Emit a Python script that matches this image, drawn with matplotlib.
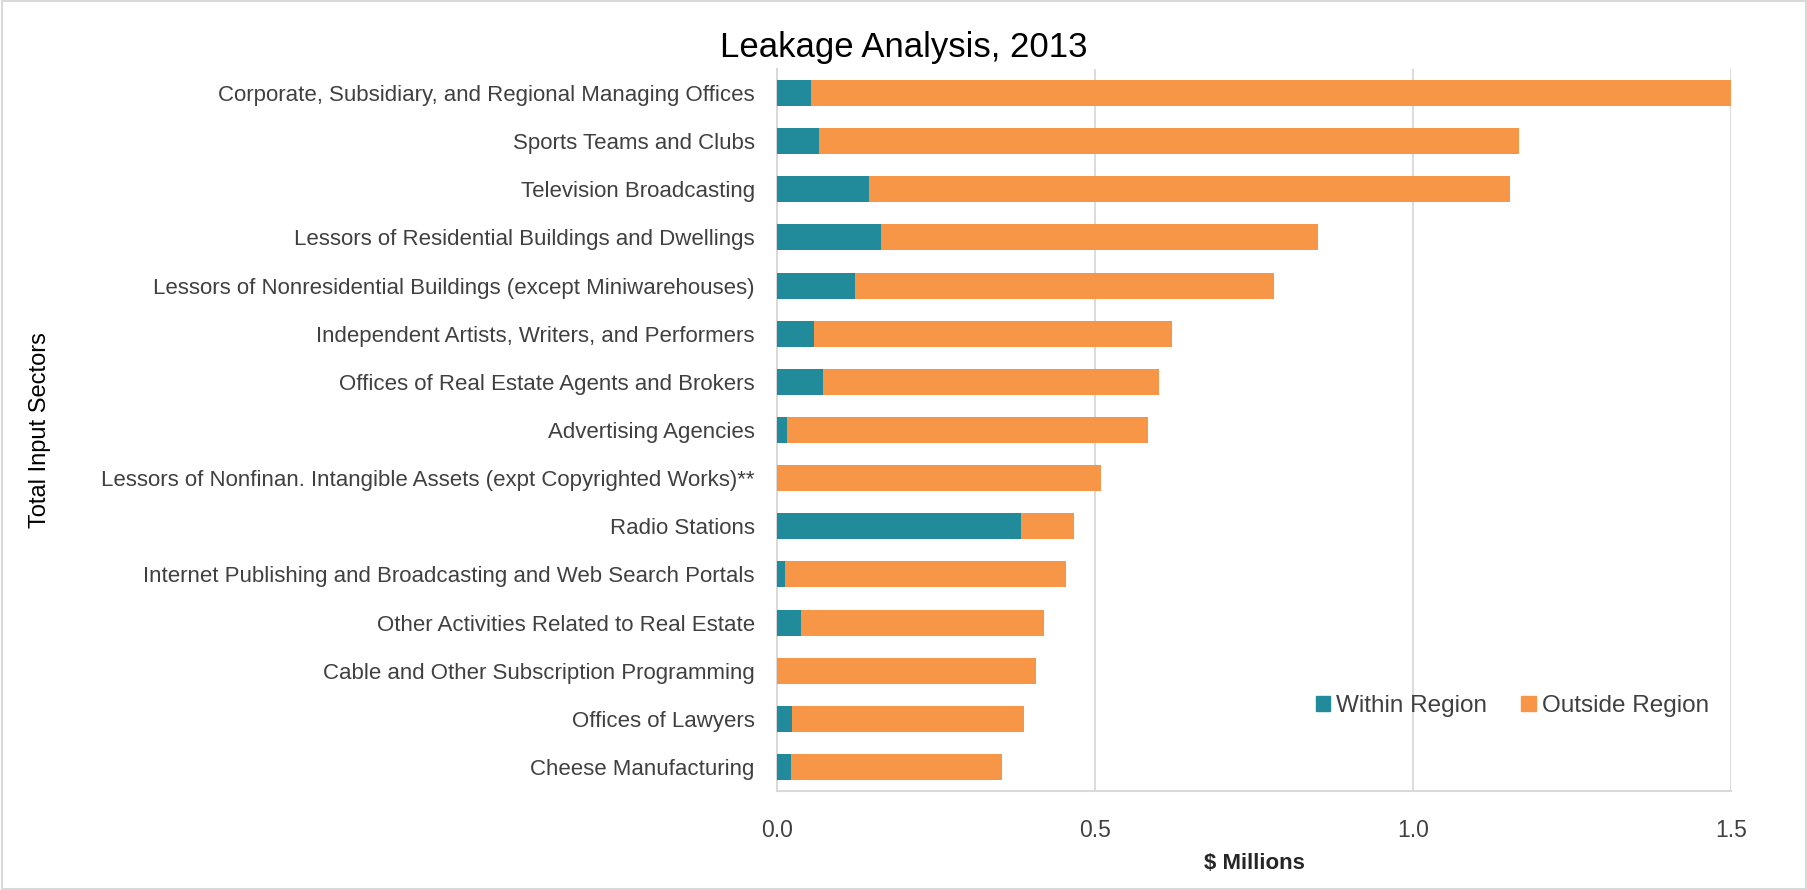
import numpy as np
import matplotlib
matplotlib.use("Agg")
import matplotlib.pyplot as plt
from matplotlib.patches import Rectangle, Patch

plt.rcParams["font.family"] = ["Liberation Sans", "DejaVu Sans"]

sectors = [
    "Corporate, Subsidiary, and Regional Managing Offices",
    "Sports Teams and Clubs",
    "Television Broadcasting",
    "Lessors of Residential Buildings and Dwellings",
    "Lessors of Nonresidential Buildings (except Miniwarehouses)",
    "Independent Artists, Writers, and Performers",
    "Offices of Real Estate Agents and Brokers",
    "Advertising Agencies",
    "Lessors of Nonfinan. Intangible Assets (expt Copyrighted Works)**",
    "Radio Stations",
    "Internet Publishing and Broadcasting and Web Search Portals",
    "Other Activities Related to Real Estate",
    "Cable and Other Subscription Programming",
    "Offices of Lawyers",
    "Cheese Manufacturing",
]
within_region = [0.054, 0.066, 0.145, 0.164, 0.122, 0.058, 0.072, 0.015, 0.0,
                 0.383, 0.012, 0.038, 0.0, 0.024, 0.022]
outside_region = [1.446, 1.101, 1.008, 0.687, 0.659, 0.563, 0.528, 0.568, 0.510,
                  0.084, 0.442, 0.382, 0.407, 0.364, 0.332]
x_ticks = [0.0, 0.5, 1.0, 1.5]

teal = "#218b9b"
orange = "#f79646"
grid_col = "#d9d9d9"
text_col = "#404040"

fig = plt.figure(figsize=(18.08, 8.90), dpi=100)
ax = fig.add_axes([777 / 1808, 1 - 791 / 890, 954 / 1808, 722 / 890])

y = np.arange(len(sectors))
within = np.array(within_region)
outside = np.array(outside_region)
ax.barh(y, within, height=0.54, color=teal, label="Within Region", zorder=3)
ax.barh(y, outside, left=within, height=0.54, color=orange, label="Outside Region", zorder=3)

ax.set_xlim(0, 1.5)
ax.set_ylim(len(sectors) - 0.5, -0.5)
ax.set_yticks(y)
ax.set_yticklabels(sectors, fontsize=16, color=text_col)
ax.set_xticks(x_ticks)
ax.set_xticklabels([f"{v:.1f}" for v in x_ticks], fontsize=16.5, color=text_col)
ax.tick_params(axis="both", length=0)
ax.tick_params(axis="y", pad=16)
ax.tick_params(axis="x", pad=20)

ax.grid(axis="x", color=grid_col, linewidth=1.3, zorder=0)
ax.set_axisbelow(True)
for s in ["top", "right"]:
    ax.spines[s].set_visible(False)
for s in ["left", "bottom"]:
    ax.spines[s].set_color(grid_col)
    ax.spines[s].set_linewidth(1.5)

ax.set_xlabel("$ Millions", fontsize=16, fontweight="bold", color="#262626", labelpad=8)
fig.text(40 / 1808, 1 - 430 / 890, "Total Input Sectors", rotation=90, fontsize=17,
         color="black", ha="center", va="center")
fig.text(0.5, 1 - 47 / 890, "Leakage Analysis, 2013", fontsize=25, color="black",
         ha="center", va="center")

handles = [Patch(color=teal), Patch(color=orange)]
fig.legend(handles, ["Within Region", "Outside Region"], loc="center left",
           bbox_to_anchor=(1306 / 1808, 1 - 706 / 890), frameon=False, ncol=2,
           fontsize=17.5, handlelength=0.6, handleheight=0.6, handletextpad=0.25,
           columnspacing=1.4, labelcolor=text_col, borderaxespad=0)

fig.patches.append(Rectangle((0.001, 0.001), 0.998, 0.998, transform=fig.transFigure,
                             fill=False, edgecolor=grid_col, linewidth=1.5))

fig.savefig("out.png", dpi=100)
